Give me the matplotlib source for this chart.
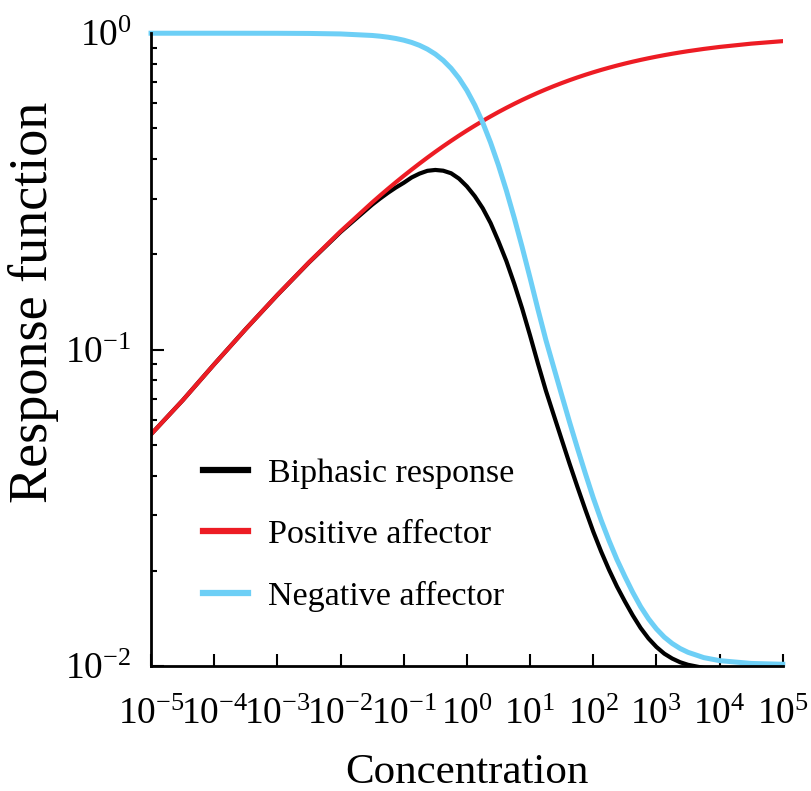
import matplotlib
matplotlib.use("Agg")
import matplotlib.pyplot as plt
import numpy as np

plt.rcParams["font.family"] = "serif"
plt.rcParams["font.serif"] = ["Liberation Serif", "DejaVu Serif"]
plt.rcParams["mathtext.fontset"] = "custom"
plt.rcParams["mathtext.rm"] = "Liberation Serif"
plt.rcParams["mathtext.it"] = "Liberation Serif:italic"

# decade exponents of the sampled concentrations
log_conc = [-5.0, -4.5, -4.0, -3.5, -3.0, -2.5, -2.0,
            -1.5, -1.375, -1.25, -1.125, -1.0, -0.875, -0.75, -0.625,
            -0.5, -0.375, -0.25, -0.125, 0.0, 0.125, 0.25, 0.375,
            0.5, 0.625, 0.75, 0.875, 1.0, 1.125, 1.25, 1.375,
            1.5, 1.625, 1.75, 1.875, 2.0, 2.125, 2.25, 2.375,
            2.5, 2.625, 2.75, 2.875, 3.0, 3.125, 3.25, 3.375,
            3.5, 3.75, 4.0, 4.5, 5.0]

positive = [0.054, 0.0691, 0.0899, 0.1162, 0.1489, 0.1888, 0.2365,
            0.2918, 0.3068, 0.3222, 0.3380, 0.3542, 0.3706, 0.3874, 0.4045,
            0.4218, 0.4393, 0.4569, 0.4747, 0.4925, 0.5103, 0.5282, 0.5459,
            0.5636, 0.5810, 0.5983, 0.6153, 0.6320, 0.6485, 0.6646, 0.6803,
            0.6956, 0.7105, 0.7250, 0.7390, 0.7525, 0.7656, 0.7781, 0.7902,
            0.8018, 0.8129, 0.8235, 0.8336, 0.8433, 0.8525, 0.8613, 0.8696,
            0.8775, 0.8920, 0.9050, 0.9269, 0.9440]

negative = [1.0, 1.0, 1.0, 0.9998, 0.9995, 0.9984, 0.9948,
            0.9838, 0.9786, 0.9716, 0.9625, 0.9507, 0.9353, 0.9155, 0.8904,
            0.8591, 0.8206, 0.7744, 0.7204, 0.6593, 0.5925, 0.5221, 0.4511,
            0.3823, 0.3182, 0.2606, 0.2107, 0.1685, 0.1339, 0.1073, 0.0878,
            0.0719, 0.0590, 0.0488, 0.0406, 0.0340, 0.0289, 0.0249, 0.0217,
            0.0192, 0.0171, 0.0154, 0.0141, 0.0131, 0.01234, 0.01178, 0.01136,
            0.01105, 0.01063, 0.01040, 0.01019, 0.01013]

biphasic = [0.054, 0.0691, 0.0899, 0.1162, 0.1488, 0.1885, 0.2353,
            0.2871, 0.3002, 0.3130, 0.3253, 0.3367, 0.3500, 0.3600, 0.3674,
            0.3697, 0.3677, 0.3609, 0.3471, 0.3280, 0.3054, 0.2799, 0.2512,
            0.2198, 0.1904, 0.1614, 0.1348, 0.1108, 0.0903, 0.0742, 0.0621,
            0.0520, 0.0436, 0.0368, 0.0312, 0.0266, 0.0230, 0.02014, 0.01784,
            0.01601, 0.01446, 0.01319, 0.01222, 0.01149, 0.01094, 0.01056, 0.01028,
            0.01009, 0.00986, 0.00979, 0.00983, 0.00994]

conc = 10.0 ** np.array(log_conc)

fig = plt.figure(figsize=(8.12, 7.91), dpi=100)
ax = fig.add_axes([0.186, 0.158, 0.778, 0.800])

ax.plot(conc, biphasic, color="black", lw=3.0, label="Biphasic response")
ax.plot(conc, positive, color="#ED1C24", lw=3.0, label="Positive affector")
ax.plot(conc, negative, color="#6DCFF6", lw=3.6, label="Negative affector",
        clip_on=False)

ax.set_xscale("log")
ax.set_yscale("log")
ax.set_xlim(1e-5, 1e5)
ax.set_ylim(1e-2, 1)
ax.set_xticks(10.0 ** np.arange(-5, 6))
ax.set_yticks([1e-2, 1e-1, 1])

for side in ("top", "right"):
    ax.spines[side].set_visible(False)
for side in ("left", "bottom"):
    ax.spines[side].set_linewidth(2.0)

ax.tick_params(which="both", direction="in", width=1.5)
ax.tick_params(which="major", length=9, labelsize=27)
ax.tick_params(which="minor", length=4.5)
ax.tick_params(axis="x", which="major", pad=23)
ax.tick_params(axis="y", which="major", pad=14)

ax.set_xlabel("Concentration", fontsize=31, labelpad=15)
ax.set_ylabel("Response function", fontsize=39)
ax.yaxis.set_label_coords(-0.146, 0.575)

leg = ax.legend(loc="upper left", bbox_to_anchor=(0.083, 0.328), frameon=False,
                fontsize=24.5, handlelength=1.3, handletextpad=0.6,
                labelspacing=0.89, borderaxespad=0, borderpad=0)
for line in leg.get_lines():
    line.set_linewidth(4.5)

fig.savefig("out.png", dpi=100)
